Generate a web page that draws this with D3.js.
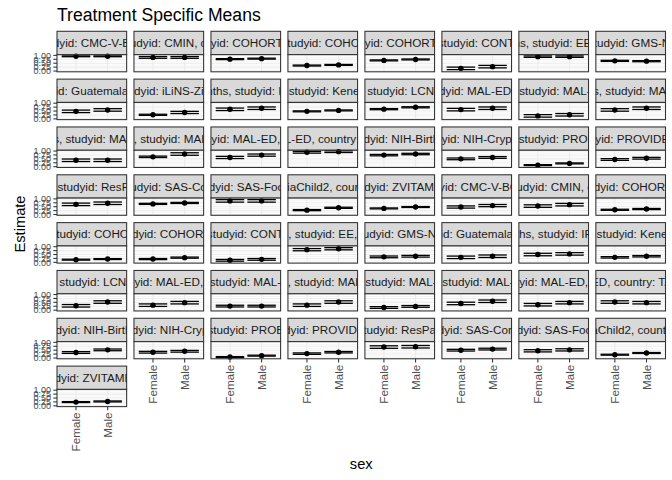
<!DOCTYPE html>
<html>
<head>
<meta charset="utf-8">
<script src="https://cdn.jsdelivr.net/npm/d3@7"></script>
<style>
  body { margin: 0; background: #fff; }
  svg text { font-family: "Liberation Sans", Arial, Helvetica, sans-serif; }
</style>
</head>
<body>
<div id="chart"></div>
<script>
// facet strip labels, in panel order (row by row); long labels get clipped by the strip
const stripLabels = [
  "studyid: CMC-V-BCS", "s, studyid: CMIN, count", "studyid: COHORTS, c", "hs, studyid: COHORTS",
  "studyid: COHORTS, c", "ths, studyid: CONTENT", "onths, studyid: EE, co", "hs, studyid: GMS-Nepal",
  "udyid: Guatemala BS", "studyid: iLiNS-Zinc, ", "months, studyid: IRC,", "hs, studyid: Keneba, ",
  "hs, studyid: LCNI-5,", "studyid: MAL-ED, co", "hs, studyid: MAL-ED", "nths, studyid: MAL-E",
  "onths, studyid: MAL-ED", "ths, studyid: MAL-E", "studyid: MAL-ED, cou", "MAL-ED, country: BA",
  "studyid: NIH-Birth, c", "studyid: NIH-Crypto, c", "hs, studyid: PROBIT, ", "studyid: PROVIDE, co",
  "hs, studyid: ResPak, ", "studyid: SAS-Com", "studyid: SAS-FoodS", "zaniaChild2, country:",
  "studyid: ZVITAMBO", "studyid: CMC-V-BCS-2", "s, studyid: CMIN, coun", "studyid: COHORTS, ",
  "hs, studyid: COHORTS", "studyid: COHORTS, ", "ths, studyid: CONTENT", "nths, studyid: EE, cou",
  "s, studyid: GMS-Nepal", "udyid: Guatemala BS", "onths, studyid: IRC, ", "hs, studyid: Keneba, ",
  "hs, studyid: LCNI-5,", "studyid: MAL-ED, cou", "hs, studyid: MAL-ED,", "ths, studyid: MAL-E",
  "hs, studyid: MAL-ED", "hs, studyid: MAL-ED", "studyid: MAL-ED, cou", "L-ED, country: TAN",
  "studyid: NIH-Birth, c", "studyid: NIH-Crypto, ", "s, studyid: PROBIT,", "studyid: PROVIDE, c",
  "s, studyid: ResPak, c", "studyid: SAS-CompF", "studyid: SAS-FoodS", "niaChild2, country:",
  "studyid: ZVITAMBO,"
];

const sexes = ["Female", "Male"];

const estFemale = [
  0.94, 0.87, 0.76, 0.35, 0.68, 0.17, 0.92, 0.65,
  0.48, 0.26, 0.61, 0.48, 0.62, 0.59, 0.19, 0.57,
  0.41, 0.63, 0.59, 0.92, 0.74, 0.50, 0.10, 0.46,
  0.65, 0.68, 0.87, 0.28, 0.39, 0.48, 0.54, 0.30,
  0.17, 0.21, 0.13, 0.81, 0.35, 0.32, 0.50, 0.32,
  0.28, 0.32, 0.26, 0.32, 0.17, 0.43, 0.35, 0.52,
  0.35, 0.37, 0.06, 0.28, 0.70, 0.50, 0.46, 0.21,
  0.24
];
const estMale = [
  0.94, 0.87, 0.79, 0.39, 0.74, 0.28, 0.92, 0.63,
  0.57, 0.41, 0.68, 0.54, 0.74, 0.68, 0.26, 0.68,
  0.41, 0.81, 0.74, 0.96, 0.81, 0.59, 0.21, 0.54,
  0.72, 0.74, 0.87, 0.43, 0.48, 0.57, 0.63, 0.35,
  0.21, 0.30, 0.19, 0.87, 0.39, 0.39, 0.54, 0.39,
  0.52, 0.48, 0.26, 0.52, 0.24, 0.57, 0.48, 0.48,
  0.52, 0.43, 0.15, 0.37, 0.72, 0.57, 0.52, 0.32,
  0.28
];
// half-width of the confidence interval
const ciFemale = [
  0.025, 0.055, 0.03, 0.03, 0.03, 0.08, 0.045, 0.035,
  0.08, 0.035, 0.08, 0.03, 0.035, 0.08, 0.08, 0.08,
  0.08, 0.045, 0.07, 0.055, 0.045, 0.055, 0.03, 0.055,
  0.08, 0.035, 0.08, 0.035, 0.03, 0.07, 0.08, 0.035,
  0.03, 0.035, 0.055, 0.07, 0.055, 0.08, 0.08, 0.045,
  0.08, 0.08, 0.055, 0.08, 0.055, 0.08, 0.08, 0.08,
  0.055, 0.055, 0.03, 0.045, 0.08, 0.055, 0.07, 0.03,
  0.03
];
const ciMale = [
  0.025, 0.055, 0.03, 0.03, 0.03, 0.08, 0.045, 0.035,
  0.08, 0.07, 0.08, 0.03, 0.035, 0.08, 0.08, 0.08,
  0.08, 0.08, 0.07, 0.055, 0.045, 0.055, 0.03, 0.055,
  0.08, 0.035, 0.08, 0.035, 0.03, 0.07, 0.08, 0.035,
  0.03, 0.035, 0.055, 0.07, 0.055, 0.08, 0.08, 0.045,
  0.08, 0.08, 0.055, 0.08, 0.055, 0.08, 0.08, 0.08,
  0.055, 0.055, 0.03, 0.045, 0.08, 0.055, 0.07, 0.03,
  0.03
];
const yTicks = [0, 0.25, 0.5, 0.75, 1];
const yMinor = [0.125, 0.375, 0.625, 0.875];

const W = 672, H = 480;
const nCol = 8;
const plotLeft = 57, plotRight = 665.5, plotTop = 31.3;
const gap = 7.33;
const panelW = (plotRight - plotLeft - gap * (nCol - 1)) / nCol;
const stripH = 23.3, panelH = 17.2;
const pitch = stripH + panelH + gap;

const data = stripLabels.map((lab, i) => ({
  label: lab,
  row: Math.floor(i / nCol),
  col: i % nCol,
  vals: [
    { sex: "Female", est: estFemale[i], lo: estFemale[i] - ciFemale[i], hi: estFemale[i] + ciFemale[i] },
    { sex: "Male", est: estMale[i], lo: estMale[i] - ciMale[i], hi: estMale[i] + ciMale[i] }
  ]
}));

const x = d3.scalePoint().domain(sexes).range([0, panelW]).padding(0.6);
const y = d3.scaleLinear().domain([-0.05, 1.05]).range([panelH, 0]);
const step = x.step();

const svg = d3.select("#chart").append("svg")
  .attr("width", W).attr("height", H);
svg.append("rect").attr("width", W).attr("height", H).attr("fill", "#fff");

const defs = svg.append("defs");

svg.append("text")
  .attr("x", plotLeft).attr("y", 20.5)
  .attr("font-size", 17.6)
  .attr("fill", "#000")
  .text("Treatment Specific Means");

const panels = svg.selectAll("g.facet").data(data).join("g")
  .attr("class", "facet")
  .attr("transform", d => `translate(${plotLeft + d.col * (panelW + gap)},${plotTop + d.row * pitch})`);

// strips
panels.each(function(d, i) {
  defs.append("clipPath").attr("id", "clip" + i)
    .append("rect").attr("width", panelW).attr("height", stripH);
});
panels.append("rect")
  .attr("width", panelW).attr("height", stripH)
  .attr("fill", "#D9D9D9").attr("stroke", "#333333").attr("stroke-width", 1.07);
panels.append("g")
  .attr("clip-path", (d, i) => `url(#clip${i})`)
  .append("text")
  .attr("x", panelW / 2).attr("y", stripH / 2 + 4.1)
  .attr("text-anchor", "middle")
  .attr("font-size", 11.7)
  .attr("fill", "#1A1A1A")
  .text(d => d.label);

const body = panels.append("g").attr("transform", `translate(0,${stripH})`);
body.append("rect").attr("width", panelW).attr("height", panelH).attr("fill", "#fff");
body.selectAll("line.minor").data(yMinor).join("line")
  .attr("x1", 0).attr("x2", panelW)
  .attr("y1", d => y(d)).attr("y2", d => y(d))
  .attr("stroke", "#EBEBEB").attr("stroke-width", 0.53);
body.selectAll("line.hmaj").data(yTicks).join("line")
  .attr("x1", 0).attr("x2", panelW)
  .attr("y1", d => y(d)).attr("y2", d => y(d))
  .attr("stroke", "#EBEBEB").attr("stroke-width", 1.07);
body.selectAll("line.vmaj").data(sexes).join("line")
  .attr("x1", d => x(d)).attr("x2", d => x(d))
  .attr("y1", 0).attr("y2", panelH)
  .attr("stroke", "#EBEBEB").attr("stroke-width", 1.07);

// error bars and points
const bw = step * 0.45;
const eb = body.selectAll("g.eb").data(d => d.vals).join("g");
eb.append("line")
  .attr("x1", d => x(d.sex)).attr("x2", d => x(d.sex))
  .attr("y1", d => y(d.lo)).attr("y2", d => y(d.hi))
  .attr("stroke", "#000").attr("stroke-width", 1.3);
eb.append("line")
  .attr("x1", d => x(d.sex) - bw).attr("x2", d => x(d.sex) + bw)
  .attr("y1", d => y(d.lo)).attr("y2", d => y(d.lo))
  .attr("stroke", "#000").attr("stroke-width", 1.3);
eb.append("line")
  .attr("x1", d => x(d.sex) - bw).attr("x2", d => x(d.sex) + bw)
  .attr("y1", d => y(d.hi)).attr("y2", d => y(d.hi))
  .attr("stroke", "#000").attr("stroke-width", 1.3);
eb.append("circle")
  .attr("cx", d => x(d.sex)).attr("cy", d => y(d.est))
  .attr("r", 2.7).attr("fill", "#000");

body.append("rect").attr("width", panelW).attr("height", panelH)
  .attr("fill", "none").attr("stroke", "#333333").attr("stroke-width", 1.07);

// y axis on first column
const firstCol = body.filter(d => d.col === 0);
const yAx = firstCol.append("g");
yAx.selectAll("line").data(yTicks).join("line")
  .attr("x1", -3.67).attr("x2", 0)
  .attr("y1", d => y(d)).attr("y2", d => y(d))
  .attr("stroke", "#333333").attr("stroke-width", 1.07);
yAx.selectAll("text").data(yTicks).join("text")
  .attr("x", -5.9).attr("y", d => y(d) + 3.2)
  .attr("text-anchor", "end")
  .attr("font-size", 9)
  .attr("fill", "#4D4D4D")
  .text(d => d3.format(".2f")(d));

// x axis under the lowest panel of each column
const lastRowOf = c => d3.max(data.filter(d => d.col === c), d => d.row);
const bottomPanels = body.filter(d => d.row === lastRowOf(d.col));
bottomPanels.selectAll("line.xt").data(sexes).join("line")
  .attr("x1", d => x(d)).attr("x2", d => x(d))
  .attr("y1", panelH).attr("y2", panelH + 3.67)
  .attr("stroke", "#333333").attr("stroke-width", 1.07);
bottomPanels.selectAll("text.xl").data(sexes).join("text")
  .attr("transform", d => `translate(${x(d)},${panelH + 5.9}) rotate(-90)`)
  .attr("text-anchor", "end")
  .attr("dy", "0.35em")
  .attr("font-size", 11.7)
  .attr("fill", "#4D4D4D")
  .text(d => d);

svg.append("text")
  .attr("transform", `translate(24.5,224) rotate(-90)`)
  .attr("text-anchor", "middle")
  .attr("font-size", 14.67)
  .attr("fill", "#000")
  .text("Estimate");

svg.append("text")
  .attr("x", (plotLeft + plotRight) / 2).attr("y", 469)
  .attr("text-anchor", "middle")
  .attr("font-size", 14.67)
  .attr("fill", "#000")
  .text("sex");
</script>
</body>
</html>
